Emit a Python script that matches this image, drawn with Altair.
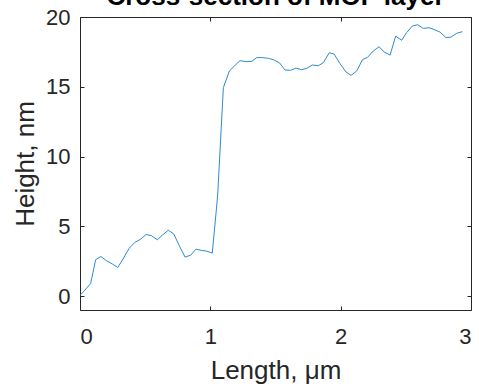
import altair as alt
import pandas as pd

length_um = [0, 0.025, 0.082, 0.12, 0.16, 0.2, 0.25, 0.29, 0.33, 0.376,
             0.42, 0.466, 0.506, 0.55, 0.593, 0.632, 0.678, 0.72, 0.762, 0.806,
             0.849, 0.89, 0.934, 0.97, 1.015, 1.056, 1.1, 1.146, 1.19, 1.228,
             1.274, 1.317, 1.356, 1.4, 1.445, 1.487, 1.532, 1.573, 1.617, 1.657,
             1.7, 1.74, 1.783, 1.83, 1.867, 1.913, 1.949, 1.995, 2.041, 2.08,
             2.123, 2.169, 2.204, 2.25, 2.294, 2.335, 2.379, 2.422, 2.468, 2.506,
             2.55, 2.591, 2.634, 2.678, 2.716, 2.762, 2.808, 2.847, 2.89, 2.933]
height_nm = [0.05, 0.3, 0.9, 2.6, 2.84, 2.55, 2.29, 2.05, 2.65, 3.41,
             3.84, 4.08, 4.41, 4.32, 4.03, 4.37, 4.72, 4.44, 3.6, 2.79,
             2.93, 3.36, 3.27, 3.22, 3.08, 7.18, 14.94, 16.13, 16.54, 16.87,
             16.8, 16.82, 17.09, 17.09, 17.04, 16.93, 16.7, 16.2, 16.18, 16.34,
             16.22, 16.32, 16.56, 16.51, 16.73, 17.44, 17.35, 16.66, 16.06, 15.82,
             16.13, 16.96, 17.09, 17.56, 17.87, 17.49, 17.27, 18.63, 18.33, 18.88,
             19.35, 19.45, 19.18, 19.23, 19.11, 18.92, 18.52, 18.56, 18.83, 18.95]
x_ticks = [0, 1, 2, 3]
y_ticks = [0, 5, 10, 15, 20]

df = pd.DataFrame({"x": length_um, "y": height_nm})

FONT = "Liberation Sans"
AX = "#262626"
TICK = 4

xscale = alt.Scale(domain=[0, 3], nice=False, zero=False)
yscale = alt.Scale(domain=[-1, 20], nice=False, zero=False)

base_axis = dict(grid=False, domain=False, tickSize=TICK, offset=-TICK,
                 tickColor=AX, tickWidth=1, labelFont=FONT, titleFont=FONT,
                 labelColor=AX, titleColor=AX, labelFontSize=22,
                 titleFontSize=26, titleFontWeight="normal")

main = alt.Chart(df).mark_line(color="#2F8AD0", strokeWidth=1, clip=True).encode(
    x=alt.X("x:Q", scale=xscale,
            axis=alt.Axis(values=x_ticks, title="Length, μm", labelPadding=16,
                          titlePadding=10, orient="bottom", **base_axis)),
    y=alt.Y("y:Q", scale=yscale,
            axis=alt.Axis(values=y_ticks, title="Height, nm", labelPadding=10,
                          titlePadding=7, orient="left", **base_axis)),
)

other_axis = dict(base_axis)
other_axis.update(labels=False, title=None)
mirror = alt.Chart(df).mark_line(opacity=0, clip=True).encode(
    x=alt.X("x:Q", scale=xscale, axis=alt.Axis(values=x_ticks, orient="top", **other_axis)),
    y=alt.Y("y:Q", scale=yscale, axis=alt.Axis(values=y_ticks, orient="right", **other_axis)),
)

chart = alt.layer(main, mirror).resolve_axis(x="independent", y="independent").properties(
    width=391, height=293,
    padding={"left": 80, "top": 17, "right": 8, "bottom": 77},
    autosize=alt.AutoSizeParams(type="none"),
    background="white",
    title=alt.TitleParams("Cross-section of MOF layer", font=FONT, fontSize=26,
                          fontWeight="bold", color="black", anchor="middle", offset=-4),
).configure_view(stroke=AX, strokeWidth=1)

chart.save("out.html", embed_options={"renderer": "svg", "actions": False})
